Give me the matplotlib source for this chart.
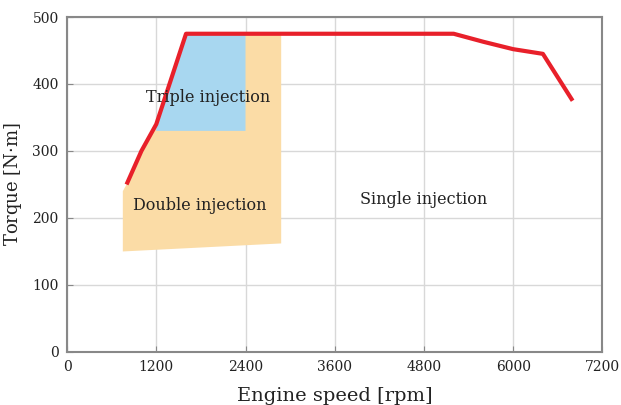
import matplotlib.pyplot as plt

# full-load torque curve
speed_rpm = [800, 1000, 1200, 1600, 5200, 5600, 6000, 6400, 6800]
torque_nm = [250, 300, 340, 475, 475, 463, 452, 445, 375]

# injection regions (outline points)
double_x = [750, 800, 1000, 1200, 1600, 2880, 2880, 750]
double_y = [240, 250, 300, 340, 475, 475, 162, 150]
triple_x = [1200, 1600, 2400, 2400, 1200]
triple_y = [340, 475, 475, 330, 330]

region_labels = ['Triple injection', 'Double injection', 'Single injection']
label_x = [1900, 1780, 4800]
label_y = [380, 218, 227]

plt.rcParams['font.family'] = 'DejaVu Serif'

fig = plt.figure(figsize=(6.21, 4.05), dpi=100)
ax = fig.add_axes([0.108, 0.131, 0.862, 0.827])

ax.fill(double_x, double_y, color='#fbdca6', lw=0, zorder=1)
ax.fill(triple_x, triple_y, color='#a8d7f0', lw=0, zorder=1.5)
ax.plot(speed_rpm, torque_nm, color='#e8202a', lw=3, solid_capstyle='butt', zorder=3)

for txt, tx, ty in zip(region_labels, label_x, label_y):
    ax.text(tx, ty, txt, ha='center', va='center', fontsize=11.5, color='#222222', zorder=4)

ax.set_xlim(0, 7200)
ax.set_ylim(0, 500)
ax.set_xticks(range(0, 7201, 1200))
ax.set_yticks(range(0, 501, 100))
ax.grid(True, color='#d8d8d8', lw=1, zorder=0)
ax.set_axisbelow(True)

for s in ax.spines.values():
    s.set_color('#888888')
    s.set_linewidth(1.5)
ax.tick_params(direction='in', length=4, color='#888888', labelsize=10, labelcolor='#222222', pad=6)

ax.set_xlabel('Engine speed [rpm]', fontsize=14, color='#222222', labelpad=9)
ax.set_ylabel('Torque [N$\\cdot$m]', fontsize=13, color='#222222', labelpad=6)

fig.savefig('out.png', dpi=100)
